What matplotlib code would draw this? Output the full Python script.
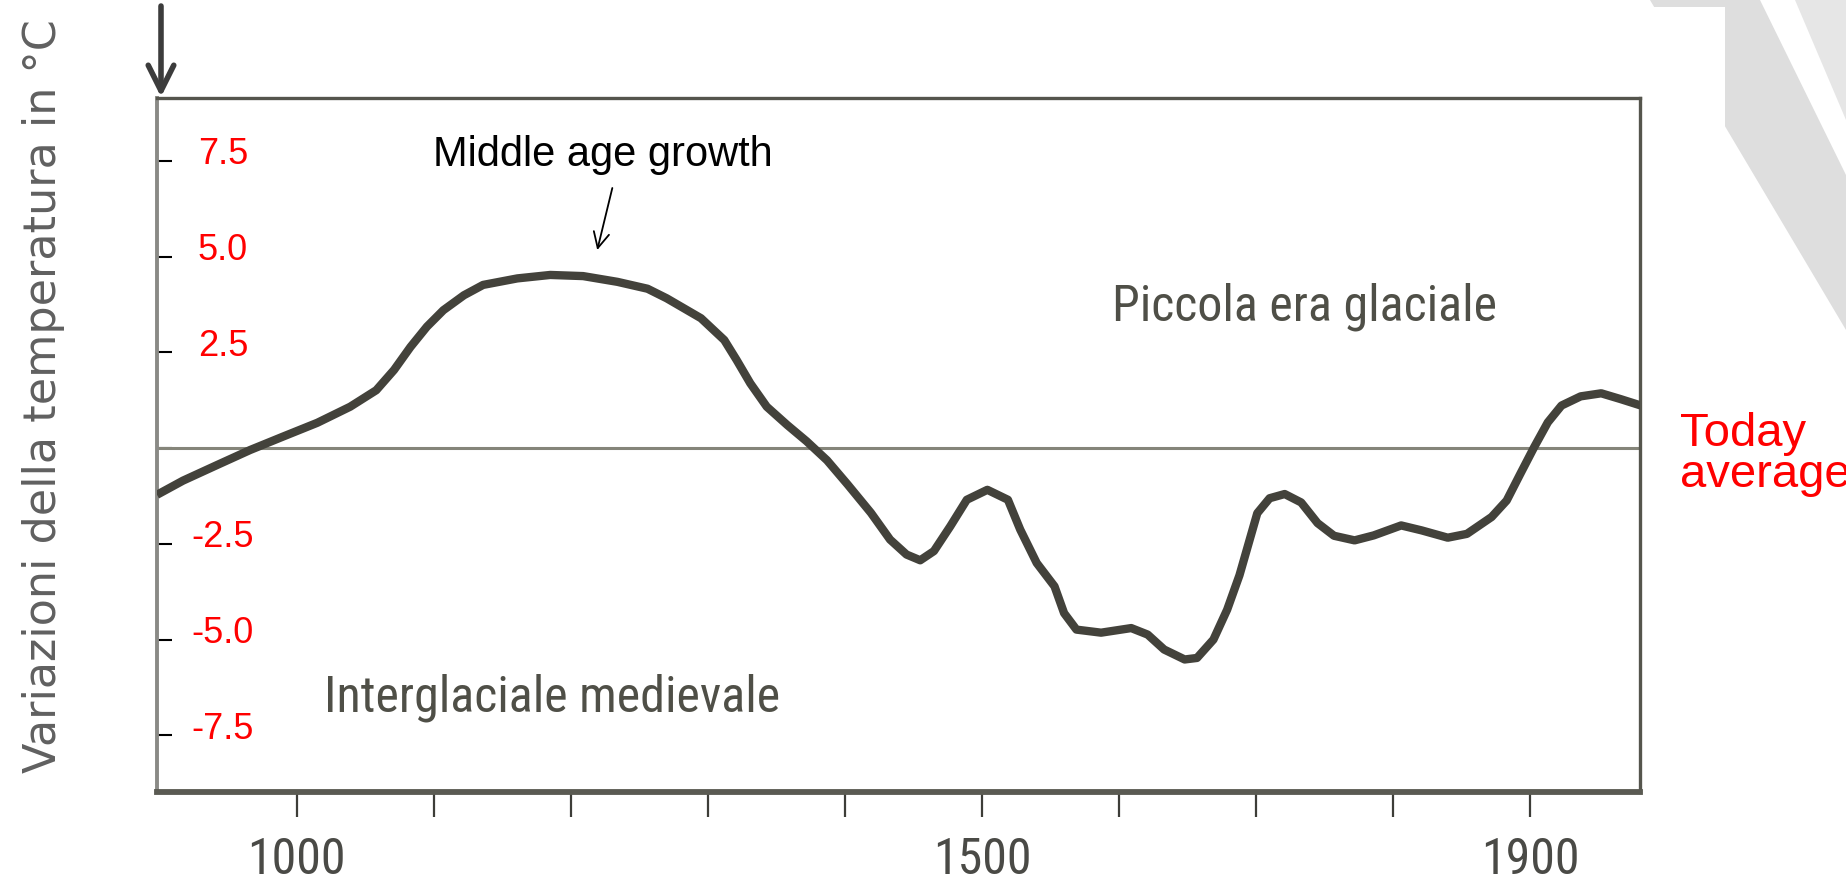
import matplotlib
matplotlib.use("Agg")
import matplotlib.pyplot as plt
from matplotlib.transforms import blended_transform_factory, ScaledTranslation
from matplotlib.patches import Polygon, Rectangle

# ---------------- data ----------------
years = [898, 917, 942, 966, 990, 1015, 1039, 1058, 1071, 1083, 1095, 1107, 1122,
         1136, 1161, 1185, 1209, 1234, 1256, 1270, 1295, 1312, 1321, 1331, 1343,
         1358, 1372, 1387, 1402, 1419, 1433, 1445, 1455, 1465, 1477, 1489, 1504,
         1519, 1528, 1540, 1553, 1560, 1569, 1587, 1609, 1621, 1633, 1648, 1657,
         1669, 1679, 1688, 1701, 1710, 1721, 1733, 1745, 1757, 1772, 1786, 1806,
         1821, 1840, 1854, 1872, 1883, 1893, 1903, 1913, 1923, 1937, 1952, 1966,
         1981]
temps = [-1.22, -0.85, -0.44, -0.05, 0.30, 0.66, 1.08, 1.51, 2.04, 2.64, 3.17,
         3.60, 3.99, 4.26, 4.43, 4.52, 4.49, 4.34, 4.16, 3.91, 3.39, 2.82, 2.30,
         1.69, 1.08, 0.60, 0.18, -0.32, -0.95, -1.69, -2.39, -2.78, -2.93, -2.69,
         -2.04, -1.35, -1.09, -1.35, -2.13, -3.00, -3.61, -4.31, -4.74, -4.82,
         -4.70, -4.87, -5.26, -5.52, -5.48, -5.00, -4.22, -3.32, -1.70, -1.31,
         -1.20, -1.42, -1.96, -2.29, -2.41, -2.28, -2.02, -2.15, -2.34, -2.24,
         -1.80, -1.37, -0.67, 0.02, 0.67, 1.11, 1.35, 1.43, 1.28, 1.11]

ytick_values = [7.5, 5.0, 2.5, 0.0, -2.5, -5.0, -7.5]
ytick_labels = ["7.5", "5.0", "2.5", "", "-2.5", "-5.0", "-7.5"]
xtick_values = [1000, 1100, 1200, 1300, 1400, 1500, 1600, 1700, 1800, 1900]
xtick_labels = ["1000", "", "", "", "", "1500", "", "", "", "1900"]

ylabel_text = "Variazioni della temperatura in °C"
annot_text = "Middle age growth"
label_little_ice = "Piccola era glaciale"
label_medieval = "Interglaciale medievale"
today_lines = ["Today", "average"]

# ---------------- figure ----------------
W, H = 1846, 884
fig = plt.figure(figsize=(W / 100, H / 100), dpi=100)
fig.patch.set_facecolor("white")


def fp(x, y):
    """pixel (top-left origin) -> figure fraction"""
    return (x / W, 1 - y / H)


# faint slide-background decoration at top right (behind everything)
fig.patches.append(Polygon([fp(1650, 0), fp(1760, 0), fp(1846, 175), fp(1846, 330)],
                           closed=True, transform=fig.transFigure, facecolor="#dedede",
                           edgecolor="none", zorder=-3))
fig.patches.append(Polygon([fp(1795, 0), fp(1846, 0), fp(1846, 120)],
                           closed=True, transform=fig.transFigure, facecolor="#e6e6e6",
                           edgecolor="none", zorder=-3))
fig.patches.append(Rectangle(fp(0, 884), 1725 / W, (884 - 7) / H,
                             transform=fig.transFigure, facecolor="white",
                             edgecolor="none", zorder=-2))

L, R, T, B = 157, 1640, 98, 792
ax = fig.add_axes([L / W, 1 - B / H, (R - L) / W, (B - T) / H])
ax.set_zorder(2)
ax.set_xlim(898, 1980.3)
ax.set_ylim(-8.98, 9.14)
ax.patch.set_alpha(0)

narrow = ["Roboto Condensed", "Liberation Sans Narrow", "DejaVu Sans"]
arial = ["Liberation Sans", "DejaVu Sans"]

# zero line and curve
ax.axhline(0, color="#85857a", lw=2.2, zorder=2)
ax.plot(years, temps, color="#43423b", lw=6.0, solid_capstyle="butt",
        solid_joinstyle="round", zorder=3)

# spines
for side in ["right", "top"]:
    ax.spines[side].set_color("#55554d")
    ax.spines[side].set_linewidth(2.4)
ax.spines["left"].set_color("#8a8a86")
ax.spines["left"].set_linewidth(2.8)
ax.spines["bottom"].set_color("#5a5a52")
ax.spines["bottom"].set_linewidth(4.2)

# y ticks (inside) with red labels drawn inside the axes
ax.set_yticks(ytick_values)
ax.tick_params(axis="y", direction="in", length=11, width=1.5, color="black",
               labelleft=False)
trans = blended_transform_factory(ax.transAxes, ax.transData) + \
    ScaledTranslation(0, 4.5 / 72, fig.dpi_scale_trans)
for v, lab in zip(ytick_values, ytick_labels):
    if lab:
        ax.text(0.0445, v, lab, transform=trans, ha="center", va="center",
                color="#ff0000", fontsize=26, family=arial)

# x ticks
ax.set_xticks(xtick_values)
ax.set_xticklabels(xtick_labels)
ax.tick_params(axis="x", direction="out", length=18, width=1.6, color="#3d3d38",
               pad=14, labelcolor="#4a4a46")
for t in ax.get_xticklabels():
    t.set_fontsize(36)
    t.set_family(narrow)
    t.set_fontstretch("condensed")

# texts inside
ax.text(1099.5, 7.36, annot_text, ha="left", va="baseline", fontsize=30,
        family=arial, color="black")
ax.annotate("", xy=(1219.3, 5.17), xytext=(1230.3, 6.79),
            arrowprops=dict(arrowstyle="->", lw=1.3, color="black",
                            mutation_scale=28, shrinkA=0, shrinkB=0))
ax.text(1594.7, 3.34, label_little_ice, ha="left", va="baseline", fontsize=36,
        family=narrow, fontstretch="condensed", color="#4f4f47")
ax.text(1020, -6.89, label_medieval, ha="left", va="baseline", fontsize=36,
        family=narrow, fontstretch="condensed", color="#4f4f47")

# y label
fig.text(44 / W, 1 - 396 / H, ylabel_text, rotation=90, ha="center", va="center",
         fontsize=32, family=["DejaVu Sans"], color="#606060")

# right-hand text (runs to the right edge, as in the original slide)
fig.text(1680 / W, 1 - 446 / H, today_lines[0], ha="left", va="baseline",
         fontsize=34, family=arial, color="#ff0000")
fig.text(1680 / W, 1 - 487 / H, today_lines[1], ha="left", va="baseline",
         fontsize=34, family=arial, color="#ff0000")

# arrow above the y axis
ax.annotate("", xy=(161, H - 97), xytext=(161, H - 6), xycoords="figure pixels",
            textcoords="figure pixels", annotation_clip=False,
            arrowprops=dict(arrowstyle="->", lw=4.0, color="#3c3c3c",
                            mutation_scale=46, shrinkA=0, shrinkB=0))

fig.savefig("out.png", dpi=100, facecolor="white")
